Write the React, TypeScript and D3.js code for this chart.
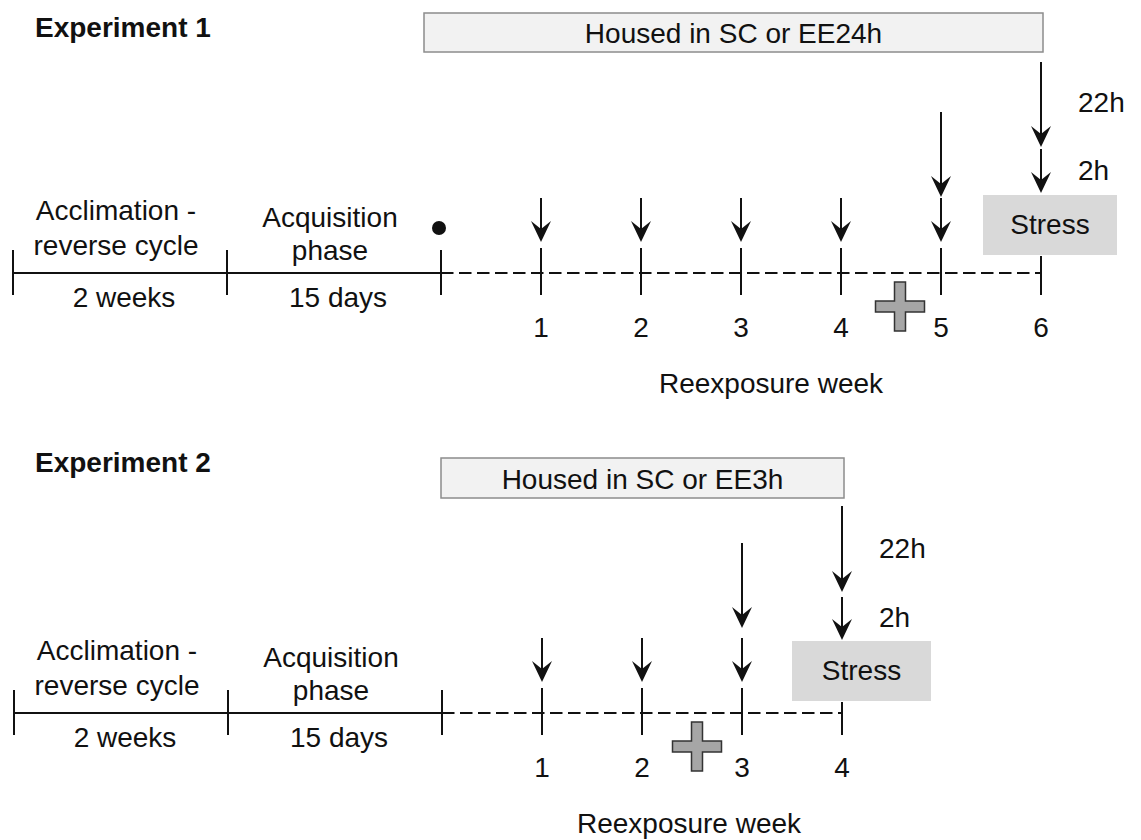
import * as d3 from "d3";

const W = 1141;
const H = 840;

// pre-reexposure phases
const phaseTitles = [["Acclimation -", "reverse cycle"], ["Acquisition", "phase"]];
const phaseDurations = ["2 weeks", "15 days"];

// experiment 1
const exp1Weeks = [1, 2, 3, 4, 5, 6];
const exp1ArrowWeeks = [1, 2, 3, 4, 5];
const exp1StressWeek = 6;
const exp1PlusWeek = 4.59;
const exp1Housing = "Housed in SC or EE24h";

// experiment 2
const exp2Weeks = [1, 2, 3, 4];
const exp2ArrowWeeks = [1, 2, 3];
const exp2StressWeek = 4;
const exp2PlusWeek = 2.55;
const exp2Housing = "Housed in SC or EE3h";

const hourLabels = ["22h", "2h"];
const FONT = "'Liberation Sans', Arial, sans-serif";
const INK = "#111";
const FS = 28;

function Arrow({ x, y1, y2 }: { x: number; y1: number; y2: number }) {
  return (
    <g>
      <line x1={x} x2={x} y1={y1} y2={y2 - 12} stroke={INK} strokeWidth={2} />
      <path
        d={`M${x},${y2} L${x - 10},${y2 - 21} L${x},${y2 - 13} L${x + 10},${y2 - 21} Z`}
        fill={INK}
      />
    </g>
  );
}

function Plus({ cx, cy }: { cx: number; cy: number }) {
  const h = 24.5;
  const t = 5.5;
  const pts = [
    [-t, -h], [t, -h], [t, -t], [h, -t], [h, t], [t, t],
    [t, h], [-t, h], [-t, t], [-h, t], [-h, -t], [-t, -t],
  ];
  return (
    <polygon
      points={pts.map(([a, b]) => `${cx + a},${cy + b}`).join(" ")}
      fill="#a6a6a6"
      stroke="#333"
      strokeWidth={1.5}
    />
  );
}

interface Layout {
  title: string;
  titleY: number;
  lineY: number;
  x0: number;
  housing: string;
  houseX0: number;
  houseY: [number, number];
  weeks: number[];
  arrowWeeks: number[];
  stressWeek: number;
  plusWeek: number;
  bigArrow: [number, number];
  hArrow: [number, number];
  preLong: [number, number];
  shortArrow: [number, number];
  stressBox: [number, number, number, number];
  hourY: [number, number];
  dot: boolean;
}

function Experiment({ lay }: { lay: Layout }) {
  const L = lay.lineY;
  const phaseX = d3.scaleLinear().domain([0, 2]).range([lay.x0, lay.x0 + 428]);
  const start = phaseX(2);
  const weekX = d3
    .scaleLinear()
    .domain([0, lay.stressWeek])
    .range([start, start + 100 * lay.stressWeek]);
  const sx = weekX(lay.stressWeek);
  const preWeek = lay.arrowWeeks[lay.arrowWeeks.length - 1];
  const [bx0, bx1, by0, by1] = lay.stressBox;

  return (
    <g fontFamily={FONT} fill={INK}>
      <text x={35} y={lay.titleY} fontSize={28} fontWeight="bold">
        {lay.title}
      </text>

      {/* housing box */}
      <rect
        x={lay.houseX0}
        y={lay.houseY[0]}
        width={sx + 2 - lay.houseX0}
        height={lay.houseY[1] - lay.houseY[0]}
        fill="#f2f2f2"
        stroke="#8c8c8c"
        strokeWidth={1.5}
      />
      <text
        x={(lay.houseX0 + sx + 2) / 2}
        y={lay.houseY[1] - 9.5}
        fontSize={FS}
        textAnchor="middle"
      >
        {lay.housing}
      </text>

      {/* phases */}
      <line x1={phaseX(0)} x2={start} y1={L} y2={L} stroke={INK} strokeWidth={2} />
      {[0, 1, 2].map((i) => (
        <line key={i} x1={phaseX(i)} x2={phaseX(i)} y1={L - 23} y2={L + 22} stroke={INK} strokeWidth={2} />
      ))}
      {phaseTitles.map((lines, i) => {
        const cx = (phaseX(i) + phaseX(i + 1)) / 2;
        return (
          <g key={i}>
            <text x={cx - 4} y={i === 0 ? L - 53 : L - 46} fontSize={FS} textAnchor="middle">
              {lines[0]}
            </text>
            <text x={cx - 4} y={i === 0 ? L - 18 : L - 13} fontSize={FS} textAnchor="middle">
              {lines[1]}
            </text>
            <text x={cx + 4} y={L + 34} fontSize={FS} textAnchor="middle">
              {phaseDurations[i]}
            </text>
          </g>
        );
      })}

      {/* reexposure weeks */}
      <line
        x1={start}
        x2={sx}
        y1={L}
        y2={L}
        stroke={INK}
        strokeWidth={2}
        strokeDasharray="12.5 5.5"
      />
      {lay.weeks.map((w) => (
        <g key={w}>
          <line
            x1={weekX(w)}
            x2={weekX(w)}
            y1={w === lay.stressWeek ? by1 + 1 : L - 25}
            y2={L + 22}
            stroke={INK}
            strokeWidth={2}
          />
          <text x={weekX(w)} y={L + 64} fontSize={FS} textAnchor="middle">
            {w}
          </text>
        </g>
      ))}
      {lay.arrowWeeks.map((w) => (
        <Arrow key={w} x={weekX(w)} y1={lay.shortArrow[0]} y2={lay.shortArrow[1]} />
      ))}
      <Arrow x={weekX(preWeek)} y1={lay.preLong[0]} y2={lay.preLong[1]} />
      <Arrow x={sx} y1={lay.bigArrow[0]} y2={lay.bigArrow[1]} />
      <Arrow x={sx} y1={lay.hArrow[0]} y2={lay.hArrow[1]} />
      {hourLabels.map((h, i) => (
        <text key={h} x={sx + 37} y={lay.hourY[i]} fontSize={FS}>
          {h}
        </text>
      ))}

      <rect x={sx + bx0} y={by0} width={bx1 - bx0} height={by1 - by0} fill="#d9d9d9" />
      <text x={sx + (bx0 + bx1) / 2} y={by1 - 21} fontSize={FS} textAnchor="middle">
        Stress
      </text>

      {lay.dot && <circle cx={start - 2} cy={L - 45} r={7} fill={INK} />}

      <Plus cx={weekX(lay.plusWeek)} cy={L + 33.5} />

      <text x={(weekX(1) + sx) / 2 - (lay.stressWeek === 6 ? 20 : 3)} y={L + 120} fontSize={FS} textAnchor="middle">
        Reexposure week
      </text>
    </g>
  );
}

const exp1: Layout = {
  title: "Experiment 1",
  titleY: 37,
  lineY: 273,
  x0: 13,
  housing: exp1Housing,
  houseX0: 424,
  houseY: [13, 52],
  weeks: exp1Weeks,
  arrowWeeks: exp1ArrowWeeks,
  stressWeek: exp1StressWeek,
  plusWeek: exp1PlusWeek,
  bigArrow: [62, 147],
  hArrow: [149, 193],
  preLong: [112, 197],
  shortArrow: [198, 242],
  stressBox: [-58, 76, 195, 255],
  hourY: [112, 180],
  dot: true,
};

const exp2: Layout = {
  title: "Experiment 2",
  titleY: 472,
  lineY: 713,
  x0: 14,
  housing: exp2Housing,
  houseX0: 441,
  houseY: [458, 498],
  weeks: exp2Weeks,
  arrowWeeks: exp2ArrowWeeks,
  stressWeek: exp2StressWeek,
  plusWeek: exp2PlusWeek,
  bigArrow: [506, 592],
  hArrow: [597, 640],
  preLong: [543, 628],
  shortArrow: [638, 682],
  stressBox: [-50, 89, 641, 701],
  hourY: [558, 627],
  dot: false,
};

export default function App() {
  return (
    <svg
      width={W}
      height={H}
      style={{ position: "absolute", left: 0, top: 0, background: "#fff" }}
    >
      <Experiment lay={exp1} />
      <Experiment lay={exp2} />
    </svg>
  );
}
